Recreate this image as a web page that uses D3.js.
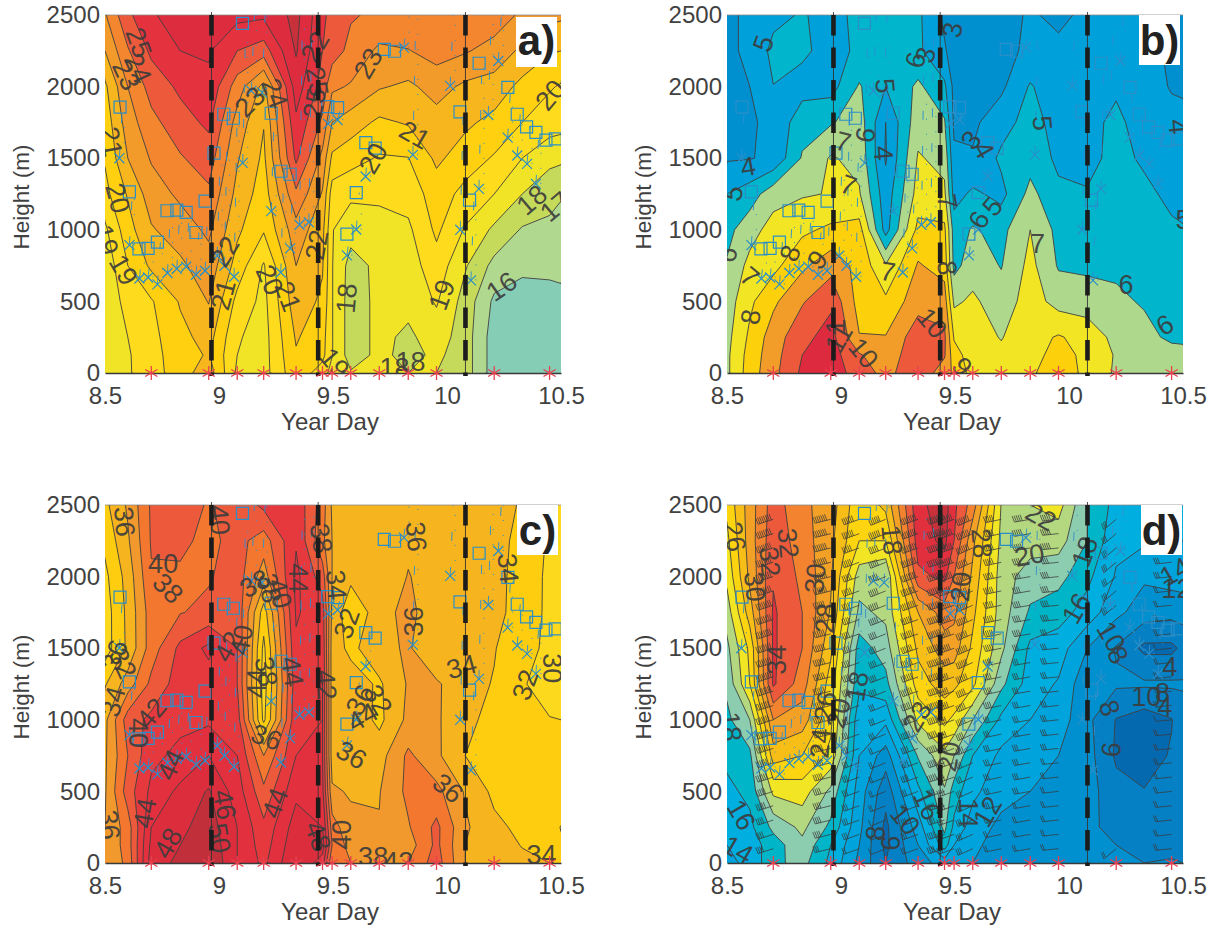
<!DOCTYPE html>
<html>
<head>
<meta charset="utf-8">
<script src="https://cdn.jsdelivr.net/npm/d3@7/dist/d3.min.js"></script>
<style>
  html, body { margin: 0; padding: 0; background: #fff; }
  text { font-family: "Liberation Sans", Arial, sans-serif; fill: #414141; }
</style>
</head>
<body>
<div id="chart"></div>
<script>
// sample columns (year day) and rows (height, top row first)
var days = [8.5, 8.6, 8.703, 8.83, 8.955, 9.08, 9.196, 9.338, 9.454, 9.496, 9.578, 9.703, 9.83, 9.954, 10.08, 10.207, 10.33, 10.45, 10.5];
var heights = [2500, 2250, 2000, 1750, 1500, 1250, 1000, 750, 500, 250, 125, 0];

// panel a, one line per height
var gridA = [
  [22.9, 24.8, 25.8, 26.8, 26.5, 26.3, 26.2, 27.3, 25.2, 24.7, 24.1, 23.8, 23.9, 23.9, 23.8, 23.6, 22.8, 22.3, 22.2],
  [22.0, 23.9, 25.2, 26.0, 26.1, 25.0, 24.5, 27.1, 25.0, 24.5, 23.7, 22.8, 22.95, 23.4, 23.1, 22.6, 21.8, 21.1, 21.0],
  [20.8, 23.0, 24.4, 25.2, 25.8, 23.5, 21.7, 26.5, 24.6, 23.2, 22.9, 22.1, 21.8, 22.4, 21.8, 21.6, 20.7, 20.1, 19.9],
  [20.4, 22.5, 23.7, 24.6, 25.2, 22.6, 21.05, 25.8, 23.8, 22.0, 21.5, 20.8, 21.1, 21.6, 21.2, 20.7, 20.0, 19.5, 19.4],
  [20.1, 22.0, 23.1, 23.9, 24.5, 22.1, 20.8, 25.2, 22.7, 20.8, 20.4, 19.9, 19.97, 21.2, 20.5, 19.9, 19.0, 18.3, 18.2],
  [19.7, 21.1, 22.5, 23.2, 23.8, 21.7, 20.5, 23.8, 21.9, 19.5, 19.2, 19.1, 19.4, 20.5, 19.7, 19.0, 18.0, 17.3, 17.1],
  [18.8, 20.6, 21.9, 22.5, 23.2, 21.2, 20.1, 22.6, 21.3, 19.05, 18.4, 18.8, 18.8, 20.2, 18.9, 17.8, 16.9, 16.8, 16.6],
  [18.3, 20.0, 21.2, 21.8, 22.6, 20.6, 18.9, 22.0, 21.1, 19.05, 17.6, 18.25, 18.5, 19.6, 18.1, 16.7, 16.2, 16.2, 16.2],
  [18.4, 19.3, 19.9, 21.1, 22.05, 19.7, 18.7, 21.6, 20.8, 19.05, 17.5, 18.25, 18.3, 19.1, 17.6, 15.8, 15.6, 15.7, 15.8],
  [18.5, 19.0, 19.7, 20.7, 21.4, 19.1, 18.6, 21.1, 20.4, 19.05, 17.5, 18.25, 17.8, 18.5, 17.5, 15.5, 15.4, 15.4, 15.5],
  [18.5, 18.9, 19.6, 20.6, 21.1, 19.0, 18.6, 20.9, 20.3, 19.05, 17.5, 18.25, 17.7, 18.2, 17.5, 15.5, 15.4, 15.4, 15.5],
  [18.5, 18.9, 19.5, 20.6, 21.5, 18.8, 18.6, 20.7, 19.5, 18.6, 18.1, 18.6, 18.0, 18.0, 17.5, 15.5, 15.4, 15.4, 15.5]
];

// panels b, c, d, one line per day column
var gridB = d3.transpose([
  [3.9, 3.9, 3.8, 3.8, 3.9, 5.0, 5.7, 6.1, 6.5, 6.7, 6.8, 6.8],
  [4.1, 4.1, 4.0, 3.9, 3.95, 5.5, 6.6, 7.3, 7.8, 8.2, 8.4, 8.5],
  [4.7, 5.3, 4.98, 4.2, 4.2, 6.6, 7.4, 7.7, 8.8, 9.5, 9.6, 9.7],
  [5.1, 5.2, 4.6, 5.6, 6.1, 6.9, 7.8, 8.8, 9.9, 10.7, 11.0, 11.2],
  [4.6, 4.6, 4.6, 5.9, 7.1, 7.05, 8.2, 9.6, 10.8, 11.4, 11.5, 11.6],
  [5.3, 5.2, 6.1, 6.5, 6.7, 7.1, 8.4, 8.7, 8.6, 9.05, 10.1, 10.5],
  [5.3, 5.3, 5.0, 4.0, 3.9, 4.4, 4.6, 7.1, 8.2, 9.05, 9.4, 9.7],
  [5.2, 5.2, 6.2, 6.6, 7.1, 7.4, 8.3, 9.1, 9.6, 10.6, 10.7, 10.7],
  [3.8, 4.1, 5.2, 6.1, 6.7, 7.2, 8.2, 8.6, 9.5, 10.2, 10.1, 9.5],
  [3.5, 3.6, 3.7, 3.8, 4.2, 4.6, 5.5, 5.7, 6.8, 7.9, 8.4, 8.8],
  [3.5, 3.6, 3.7, 3.8, 4.1, 5.2, 6.1, 6.5, 7.2, 7.4, 7.5, 7.6],
  [3.7, 3.7, 3.8, 4.6, 5.2, 4.7, 5.7, 5.95, 6.4, 6.95, 7.2, 7.6],
  [4.1, 4.2, 5.1, 5.4, 5.6, 6.3, 7.0, 7.3, 7.5, 7.6, 7.7, 7.7],
  [3.8, 4.2, 4.3, 4.6, 4.8, 5.2, 5.7, 5.9, 6.6, 8.1, 8.3, 9.1],
  [4.2, 4.4, 4.5, 4.6, 4.6, 5.1, 5.5, 5.8, 6.5, 7.6, 7.8, 7.5],
  [4.2, 4.4, 4.8, 5.3, 5.4, 5.5, 5.6, 5.8, 6.2, 6.7, 6.9, 6.9],
  [4.1, 4.2, 4.3, 4.4, 4.8, 5.3, 5.5, 5.7, 5.9, 6.3, 6.5, 6.8],
  [3.8, 3.9, 3.95, 4.2, 4.5, 4.7, 5.2, 5.5, 5.8, 5.8, 6.4, 6.8],
  [3.8, 3.85, 3.95, 4.1, 4.3, 4.5, 5.1, 5.4, 5.9, 5.8, 6.3, 6.8]
]);

var gridC = d3.transpose([
  [33.5, 32.5, 31.5, 31, 31, 33.8, 35.5, 35.7, 35.8, 36, 36, 36],
  [36.3, 35.7, 34.8, 34.5, 34.4, 37, 41, 40, 41, 39, 39, 38.6],
  [40.3, 40.2, 39.8, 39, 39, 40.5, 42.5, 43.5, 44.5, 46, 46.5, 47],
  [40.5, 40.4, 39.7, 39.9, 42.5, 43, 43.5, 44.5, 46.5, 47.5, 48, 48.5],
  [39.9, 39.5, 39.8, 40.5, 44.5, 43, 43.6, 46, 48.2, 49, 49.5, 50],
  [40.5, 40.7, 41, 41.5, 42, 42, 43, 44, 45, 46, 46, 46],
  [42.5, 39, 37, 33, 31.5, 31, 31.5, 38, 40.5, 42.5, 43, 43.5],
  [43.5, 43.8, 44.5, 44.2, 43.7, 43.2, 43.6, 44, 45.5, 47, 47.5, 48],
  [39, 38.5, 41, 43, 43.5, 44, 44, 44, 44.5, 46, 47, 45],
  [35.7, 36, 36, 35.5, 35, 35, 35, 35, 36.3, 39, 40, 38],
  [35.2, 35, 34.5, 32.5, 33.5, 35, 35.5, 35.5, 35.8, 36.5, 37, 38],
  [35.3, 35.2, 34.3, 35, 35.3, 33.7, 33.5, 35.2, 35.9, 36.1, 36.4, 36.8],
  [35.7, 35.6, 36.1, 36.8, 36.3, 36.2, 36.5, 38.4, 38.5, 37.8, 37, 38],
  [35.4, 35.2, 35.1, 34.2, 34, 36.3, 36.3, 36.4, 38.6, 40.5, 40.5, 41],
  [35, 35, 35, 34.7, 34.4, 34.6, 34.4, 34, 35.8, 36.3, 36, 36],
  [34.8, 34.6, 34.5, 34.5, 34.1, 33.9, 33.5, 33.3, 33.5, 34.5, 35, 35.5],
  [33.8, 33.5, 33.4, 33.3, 32.8, 32.2, 32.3, 32.5, 32.7, 33.5, 33.9, 34.5],
  [32, 31.7, 31.5, 31.5, 31.5, 31, 32.1, 32.4, 32.6, 33, 33.6, 34],
  [31.8, 30.5, 30, 30.5, 31, 30.5, 32, 32, 32, 34.1, 33.7, 33.8]
]);

var gridD = d3.transpose([
  [24.5, 23.5, 22.5, 21, 19.5, 18.5, 17.5, 16.5, 15.5, 14.5, 14, 13.5],
  [29, 29, 28.5, 27, 24.5, 24, 20, 17.5, 16.5, 15.5, 15, 14.5],
  [33, 33.3, 33.8, 34.3, 34.3, 34.3, 30, 27, 22.5, 18.5, 17, 17.5],
  [30.5, 31, 31.5, 32, 32, 31, 29, 26, 23, 20.5, 19.5, 18.7],
  [29, 28.5, 28.3, 27.8, 26.5, 25, 24.5, 23.5, 19.5, 17.5, 16, 15.5],
  [24.5, 24, 21, 19.5, 17, 16.5, 14.5, 14, 13, 12.5, 12, 11.5],
  [26.5, 24, 20, 20.5, 19, 17.3, 14.5, 11, 8.7, 7.5, 7.5, 8],
  [35.5, 35, 33.5, 28, 26.5, 25, 22.5, 18.2, 15.5, 13, 12, 11],
  [37, 36.5, 34.5, 31, 29, 27, 24.5, 21.5, 19.8, 18.5, 17, 13],
  [34.5, 34, 32, 30.5, 29, 26.5, 23.5, 20, 17, 15.5, 14, 12],
  [31, 28.5, 27.5, 26.5, 25.5, 24.5, 20, 16, 14.5, 13, 12.5, 12],
  [21.9, 21.5, 21, 21, 20.5, 18.5, 15.5, 13.5, 12.7, 11.5, 11, 11],
  [22, 21, 19, 17.7, 15.5, 15, 14, 13, 12, 10.7, 10.3, 10],
  [22.8, 20.8, 18.7, 16.8, 15, 13.8, 13, 12, 11.5, 10.5, 10.3, 10],
  [18, 18, 16.5, 15.2, 12, 10.5, 10.5, 10.8, 10.9, 10.5, 10.4, 10.2],
  [15.3, 14.5, 13.8, 12.5, 9.8, 10.3, 7.9, 7.7, 8.6, 9.3, 10, 10],
  [14.8, 14.3, 12.3, 11, 7.5, 10.3, 7, 7, 8.1, 8.5, 9.5, 10],
  [14.6, 14.1, 12.8, 10.7, 7.5, 10.3, 7.9, 8.2, 8.4, 9.4, 9.7, 10.1],
  [14.5, 14, 13, 10.8, 8.5, 10.2, 9.2, 9.2, 9.5, 9.8, 9.9, 10]
]);

// contour levels and band colours (first colour lies under the lowest level)
var levelsA = [16, 17, 18, 19, 20, 21, 22, 23, 24, 25, 26, 27];
var colorsA = ["#86cdb5", "#b0d88f", "#c5da5a", "#f1e426", "#fedb1c", "#fed00f", "#f7b51e", "#f29a2a", "#f4862f", "#ed5a3b", "#e5323f", "#dd2c3e", "#c8303a"];
var levelsB = [4, 5, 6, 7, 8, 9, 10, 11];
var colorsB = ["#0090d0", "#00a0da", "#00b5cc", "#aed88b", "#f2e524", "#fdd00c", "#f29c2a", "#ec5a3b", "#de2a3e"];
var levelsC = [30, 32, 34, 36, 38, 40, 42, 44, 46, 48];
var colorsC = ["#f0e327", "#fdd91d", "#fecd0f", "#f6b41f", "#f1992c", "#f4772f", "#ec5a3b", "#e5393e", "#e2303f", "#dc2d3d", "#c12f3a"];
var levelsD = [8, 10, 12, 14, 16, 18, 20, 22, 24, 26, 28, 30, 32, 34, 36];
var colorsD = ["#0569b0", "#0580c4", "#0090d0", "#00a3dc", "#00aee0", "#00b5c8", "#8ccdb0", "#b3d87f", "#f2e524", "#fcd40f", "#f8be18", "#f3a126", "#f4832f", "#ec5a3b", "#e22f3d", "#c8303a"];

// soundings, cloud top squares and cloud base crosses
var squareDays = [8.566, 8.607, 8.649, 8.689, 8.73, 8.772, 8.815, 8.856, 8.899, 8.939, 8.978, 9.021, 9.063, 9.103, 9.229, 9.272, 9.312, 9.477, 9.52, 9.561, 9.602, 9.644, 9.685, 9.725, 9.77, 10.057, 10.099, 10.141, 10.267, 10.308, 10.349, 10.39, 10.434, 10.475];
var squareHeights = [1856, 1265, 867, 870, 914, 1133, 1137, 1121, 981, 1200, 1535, 1807, 1779, 2442, 1814, 1409, 1388, 1860, 1853, 970, 1260, 1609, 1570, 2260, 2247, 1823, 1207, 2163, 1995, 1807, 1719, 1681, 1626, 1635];
var crossDays = [8.563, 8.607, 8.651, 8.689, 8.73, 8.774, 8.815, 8.856, 8.899, 8.939, 8.992, 9.024, 9.066, 9.104, 9.142, 9.189, 9.229, 9.271, 9.312, 9.353, 9.394, 9.479, 9.52, 9.561, 9.602, 9.643, 9.811, 9.85, 10.014, 10.058, 10.105, 10.14, 10.181, 10.225, 10.266, 10.308, 10.351, 10.39];
var crossHeights = [1500, 893, 660, 667, 619, 698, 728, 742, 686, 714, 819, 749, 672, 1467, 1970, 1958, 1130, 702, 870, 1035, 1053, 1740, 1767, 821, 1002, 1372, 2272, 1523, 2005, 1000, 647, 1286, 1802, 2179, 1644, 1519, 1460, 1321];
var starDays = [8.703, 8.955, 9.08, 9.196, 9.338, 9.454, 9.496, 9.578, 9.703, 9.83, 9.954, 10.207, 10.45];
var frontDays = [8.967, 9.435, 10.081];

// wind barbs of panel d, tilt of the staff by sounding (degrees below horizontal)
var barbTilt = [18, 14, 20, 22, 20, 18, 20, 24, 12, 10, 6, 40, 6];
var barbHeights = d3.range(100, 2500, 100);

// contour labels: text, day, height, rotation
var labelsA = [["25", 8.649, 2307, 70], ["24", 8.645, 2128, 65], ["23", 8.594, 2081, 65], ["21", 8.528, 1616, 80], ["20", 8.557, 1221, 75], ["19", 8.506, 930, 75], ["19", 8.582, 721, 60], ["23", 9.135, 1895, -45], ["24", 9.245, 1953, 70], ["22", 9.025, 849, -60], ["21", 9.018, 546, -75], ["20", 9.223, 651, 65], ["21", 9.303, 535, 70], ["22", 9.42, 2279, -60], ["25", 9.431, 2035, 80], ["25", 9.417, 1884, -80], ["22", 9.428, 895, -80], ["23", 9.654, 2163, -60], ["20", 9.676, 1500, -60], ["21", 9.859, 1663, 30], ["18", 9.559, 523, -85], ["19", 9.976, 546, -70], ["20", 10.452, 1942, -50], ["18", 10.371, 1209, -40], ["17", 10.474, 1163, -40], ["16", 10.239, 605, -35], ["18", 9.84, 81, 0], ["18", 9.77, 40, 0], ["19", 9.508, 70, 50]];
var labelsB = [["5", 8.659, 2302, -70], ["5", 8.526, 1256, -75], ["4", 8.592, 1442, -10], ["6", 8.5, 826, -80], ["7", 8.6, 674, 40], ["8", 8.603, 391, -80], ["8", 8.776, 837, -70], ["9", 8.896, 791, -50], ["7", 9.01, 1616, 15], ["6", 9.106, 1663, -80], ["7", 9.033, 1314, 20], ["5", 9.194, 2005, 85], ["4", 9.187, 1535, 85], ["6", 9.326, 2186, -75], ["3", 9.37, 2221, -75], ["3", 9.488, 2395, -80], ["7", 9.205, 709, 10], ["8", 9.466, 733, 85], ["10", 9.4, 349, 50], ["7", 9.466, 1198, 80], ["3", 9.569, 1628, -50], ["4", 9.627, 1558, 60], ["5", 9.884, 1744, 85], ["5", 9.664, 1163, -50], ["6", 9.605, 1070, -60], ["7", 9.862, 907, 0], ["6", 10.25, 616, 0], ["6", 10.42, 337, -30], ["4", 10.479, 1721, 85], ["5", 10.5, 1070, 0], ["9", 9.532, 46, 50], ["10", 9.099, 140, 50], ["1", 8.974, 326, -90], ["11", 8.989, 244, -60]];
var labelsC = [["36", 8.586, 2384, 85], ["40", 8.755, 2093, 0], ["38", 8.777, 1919, 45], ["36", 8.542, 1453, -70], ["32", 8.579, 1395, 65], ["34", 8.535, 1128, -75], ["42", 8.703, 1047, -50], ["40", 8.645, 907, 90], ["44", 8.787, 686, -65], ["44", 8.674, 349, -80], ["48", 8.776, 140, -60], ["36", 8.52, 267, 85], ["40", 9.003, 2395, 85], ["38", 9.157, 1953, -30], ["38", 9.223, 1919, 80], ["40", 9.267, 1884, 75], ["44", 9.347, 1988, 90], ["42", 9.04, 1512, -60], ["40", 9.098, 1558, -80], ["44", 9.164, 1256, -90], ["38", 9.208, 1337, 80], ["44", 9.322, 1337, 80], ["36", 9.208, 879, 20], ["44", 9.245, 419, -70], ["46", 9.025, 407, 80], ["50", 9.003, 174, 80], ["38", 9.449, 2267, 80], ["34", 9.515, 1942, 85], ["32", 9.559, 1674, -70], ["42", 9.471, 1244, 85], ["48", 9.435, 186, 70], ["40", 9.537, 198, -90], ["36", 9.581, 756, 30], ["32", 9.698, 1140, 60], ["36", 9.618, 1140, -60], ["44", 9.63, 1020, -30], ["36", 9.852, 1686, -90], ["36", 9.866, 2279, 85], ["34", 10.064, 1372, -15], ["36", 10.005, 523, 40], ["32", 10.342, 1244, -70], ["34", 10.269, 2058, 85], ["30", 10.463, 1360, 90], ["34", 10.415, 58, 0], ["38", 9.676, 46, 0], ["42", 9.786, 12, 0]];
var labelsD = [["26", 8.534, 2279, 80], ["18", 8.519, 953, 85], ["16", 8.563, 337, 60], ["14", 8.548, 93, 30], ["32", 8.688, 2105, 85], ["30", 8.622, 1930, 85], ["32", 8.769, 2233, 85], ["30", 8.886, 1988, -85], ["28", 8.93, 1709, -85], ["34", 8.717, 1419, -90], ["26", 8.93, 1093, -80], ["24", 8.908, 837, -85], ["20", 8.989, 1047, -75], ["18", 9.07, 1233, -80], ["16", 9.378, 407, 65], ["10", 9.282, 302, 50], ["8", 9.15, 209, -85], ["9", 9.216, 140, 90], ["23", 9.334, 1023, -60], ["20", 9.473, 744, -80], ["14", 9.561, 349, 90], ["12", 9.642, 360, -60], ["18", 9.224, 2256, 85], ["28", 9.618, 2233, 85], ["20", 9.525, 1930, -85], ["20", 9.826, 2151, -10], ["22", 9.877, 2419, 30], ["18", 10.068, 2174, -70], ["16", 10.031, 1779, -60], ["10", 10.185, 1581, 60], ["8", 10.215, 1453, 60], ["12", 10.471, 1919, 0], ["14", 10.464, 2035, -30], ["4", 10.442, 1372, 0], ["10", 10.339, 1163, 0], ["8", 10.41, 1190, 0], ["4", 10.42, 1090, 0], ["8", 10.178, 1081, 70], ["6", 10.184, 791, -85]];

var panels = [
  { name: "a)", left: 105, right: 561, top: 15, bottom: 373, grid: gridA, levels: levelsA, colors: colorsA, labels: labelsA, box: [516, 17] },
  { name: "b)", left: 727, right: 1183, top: 15, bottom: 373, grid: gridB, levels: levelsB, colors: colorsB, labels: labelsB, box: [1139, 15] },
  { name: "c)", left: 105, right: 561, top: 505, bottom: 863, grid: gridC, levels: levelsC, colors: colorsC, labels: labelsC, box: [517, 505] },
  { name: "d)", left: 727, right: 1183, top: 505, bottom: 863, grid: gridD, levels: levelsD, colors: colorsD, labels: labelsD, box: [1141, 505], barbs: true }
];

var svg = d3.select("#chart").append("svg")
  .attr("width", 1214)
  .attr("height", 930);

panels.forEach(function (p, i) { drawPanel(p, i); });

function drawPanel(p, i) {
  var xScale = d3.scaleLinear().domain([8.5, 10.5]).range([p.left, p.right]);
  var yScale = d3.scaleLinear().domain([0, 2500]).range([p.bottom, p.top]);

  var n = days.length, m = heights.length;

  // d3.contours puts value k at k + 0.5, the outer edge is pushed out of the clip
  var colX = d3.scaleLinear()
    .domain([0].concat(d3.range(n).map(function (k) { return k + 0.5; }), [n]))
    .range([p.left - 4].concat(days.map(xScale), [p.right + 4]));
  var rowY = d3.scaleLinear()
    .domain([0].concat(d3.range(m).map(function (k) { return k + 0.5; }), [m]))
    .range([p.top - 4].concat(heights.map(yScale), [p.bottom + 4]));

  var path = d3.geoPath(d3.geoTransform({
    point: function (x, y) { this.stream.point(colX(x), rowY(y)); }
  }));

  var contours = d3.contours()
    .size([n, m])
    .thresholds(p.levels)(p.grid.flat());

  var clipId = "clip" + i;
  svg.append("clipPath").attr("id", clipId).append("rect")
    .attr("x", p.left).attr("y", p.top)
    .attr("width", p.right - p.left).attr("height", p.bottom - p.top);

  var plot = svg.append("g").attr("clip-path", "url(#" + clipId + ")");

  plot.append("rect")
    .attr("x", p.left).attr("y", p.top)
    .attr("width", p.right - p.left).attr("height", p.bottom - p.top)
    .attr("fill", p.colors[0]);

  plot.selectAll("path.band")
    .data(contours)
    .enter()
    .append("path")
    .attr("class", "band")
    .attr("d", path)
    .attr("fill", function (d, k) { return p.colors[k + 1]; })
    .attr("stroke", "#3f3f3f")
    .attr("stroke-width", 0.9)
    .attr("stroke-linejoin", "round");

  // dashed cloud columns from base to top with dots along them
  var columns = crossDays.map(function (day, k) {
    var match = d3.least(squareDays.map(function (sd, s) { return [Math.abs(sd - day), squareHeights[s]]; }), function (a) { return a[0]; });
    return { day: day, base: crossHeights[k], top: match[0] < 0.016 ? match[1] : 2500 };
  });

  var cloudColor = p.barbs ? "#3a8fc4" : "#2a8fd0";
  plot.selectAll("line.cloud")
    .data(columns)
    .enter()
    .append("line")
    .attr("class", "cloud")
    .attr("x1", function (d) { return xScale(d.day); })
    .attr("x2", function (d) { return xScale(d.day) + 3; })
    .attr("y1", function (d) { return yScale(d.base); })
    .attr("y2", function (d) { return yScale(d.top); })
    .attr("stroke", cloudColor)
    .attr("stroke-width", 0.9)
    .attr("stroke-dasharray", "9 26");

  plot.selectAll("line.dots")
    .data(columns)
    .enter()
    .append("line")
    .attr("class", "dots")
    .attr("x1", function (d) { return xScale(d.day) + 5; })
    .attr("x2", function (d) { return xScale(d.day) + 5; })
    .attr("y1", function (d) { return yScale(d.base); })
    .attr("y2", function (d) { return yScale(d.top); })
    .attr("stroke", cloudColor)
    .attr("stroke-width", 1)
    .attr("stroke-dasharray", "1 14");

  if (p.barbs) drawBarbs(plot, xScale, yScale, p.grid);

  // sounding markers
  plot.selectAll("path.top")
    .data(squareDays)
    .enter()
    .append("path")
    .attr("class", "top")
    .attr("d", d3.symbol(d3.symbolSquare).size(144))
    .attr("transform", function (d, k) { return "translate(" + xScale(d) + "," + yScale(squareHeights[k]) + ")"; })
    .attr("fill", "none")
    .attr("stroke", "#2a8fc8")
    .attr("stroke-width", 1.2);

  plot.selectAll("path.base")
    .data(crossDays)
    .enter()
    .append("path")
    .attr("class", "base")
    .attr("d", d3.symbol(d3.symbolTimes).size(67))
    .attr("transform", function (d, k) { return "translate(" + xScale(d) + "," + yScale(crossHeights[k]) + ")"; })
    .attr("fill", "none")
    .attr("stroke", "#2a8fc8")
    .attr("stroke-width", 1.2);

  // contour labels
  plot.selectAll("text.clabel")
    .data(p.labels)
    .enter()
    .append("text")
    .attr("class", "clabel")
    .attr("transform", function (d) { return "translate(" + xScale(d[1]) + "," + yScale(d[2]) + ") rotate(" + d[3] + ")"; })
    .attr("text-anchor", "middle")
    .attr("dy", "0.35em")
    .style("font-size", "27px")
    .style("fill", "#3c3c3c")
    .style("fill-opacity", 0.92)
    .text(function (d) { return d[0]; });

  // frame and axes
  svg.append("line")
    .attr("x1", p.left).attr("x2", p.right)
    .attr("y1", p.top).attr("y2", p.top)
    .attr("stroke", "#8a8a8a")
    .attr("stroke-width", 0.8);

  var xAxis = d3.axisBottom(xScale).tickValues([8.5, 9, 9.5, 10, 10.5]).tickFormat(function (d) { return d; }).tickSize(0).tickPadding(14);
  var yAxis = d3.axisLeft(yScale).tickValues([0, 500, 1000, 1500, 2000, 2500]).tickSize(0).tickPadding(5).tickFormat(function (d) { return d; });

  var xGroup = svg.append("g").attr("transform", "translate(0," + p.bottom + ")").call(xAxis);
  xGroup.select(".domain").attr("stroke", "#3a3a3a").attr("stroke-width", 1.6);
  xGroup.selectAll("text").style("font-size", "24px");

  var yGroup = svg.append("g").attr("transform", "translate(" + p.left + ",0)").call(yAxis);
  yGroup.select(".domain").remove();
  yGroup.selectAll("text").style("font-size", "24px");

  svg.append("text")
    .attr("x", (p.left + p.right) / 2 - 3)
    .attr("y", p.bottom + 57)
    .attr("text-anchor", "middle")
    .style("font-size", "24px")
    .text("Year Day");

  svg.append("text")
    .attr("transform", "translate(" + (p.left - 76) + "," + ((p.top + p.bottom) / 2 + 3) + ") rotate(-90)")
    .attr("text-anchor", "middle")
    .style("font-size", "22.5px")
    .text("Height (m)");

  // front lines
  frontDays.forEach(function (day) {
    svg.append("line")
      .attr("x1", xScale(day)).attr("x2", xScale(day))
      .attr("y1", p.top - 3).attr("y2", p.bottom + 3)
      .attr("stroke", "#333")
      .attr("stroke-width", 0.9);
    svg.append("line")
      .attr("x1", xScale(day)).attr("x2", xScale(day))
      .attr("y1", p.top).attr("y2", p.bottom + 3)
      .attr("stroke", "#1c1c1c")
      .attr("stroke-width", 4.6)
      .attr("stroke-dasharray", "20.5 12");
  });

  // sounding times along the ground
  svg.selectAll(null)
    .data(starDays)
    .enter()
    .append("path")
    .attr("d", d3.symbol(d3.symbolAsterisk).size(140))
    .attr("transform", function (d) { return "translate(" + xScale(d) + "," + p.bottom + ")"; })
    .attr("fill", "none")
    .attr("stroke", "#e8404f")
    .attr("stroke-width", 1.3);

  // panel letter
  svg.append("rect")
    .attr("x", p.box[0]).attr("y", p.box[1])
    .attr("width", 41).attr("height", 50)
    .attr("fill", "#fff");
  svg.append("text")
    .attr("x", p.box[0] + 20.5)
    .attr("y", p.bottom === 373 ? 55 : 545)
    .attr("text-anchor", "middle")
    .style("font-size", "42px")
    .style("font-weight", "bold")
    .style("fill", "#222")
    .text(p.name);
}

function valueAt(grid, day, height) {
  var byRow = grid.map(function (row) {
    return d3.scaleLinear().domain(days).range(row)(day);
  });
  return d3.scaleLinear().domain(heights).range(byRow)(height);
}

function drawBarbs(plot, xScale, yScale, grid) {
  var staff = 16, feather = 6, spacing = 2;
  var line = d3.path();
  starDays.forEach(function (day, c) {
    var a = barbTilt[c] * Math.PI / 180;
    var ux = -Math.cos(a), uy = Math.sin(a);
    barbHeights.forEach(function (h) {
      // the sounding at 10.207 only has winds in the lowest and upper levels
      if (day > 10.2 && day < 10.3 && h > 150 && h < 1800) return;
      var speed = valueAt(grid, day, h);
      var count = Math.max(1, Math.floor(speed / 4));
      var x0 = xScale(day), y0 = yScale(h);
      var x1 = x0 + ux * staff, y1 = y0 + uy * staff;
      line.moveTo(x0, y0);
      line.lineTo(x1, y1);
      d3.range(count).forEach(function (k) {
        var bx = x1 - ux * k * spacing, by = y1 - uy * k * spacing;
        line.moveTo(bx, by);
        line.lineTo(bx - 0.4 * feather, by - feather);
      });
    });
  });
  plot.append("path")
    .attr("d", line.toString())
    .attr("fill", "none")
    .attr("stroke", "#3a3a3a")
    .attr("stroke-width", 0.75);
}
</script>
</body>
</html>
